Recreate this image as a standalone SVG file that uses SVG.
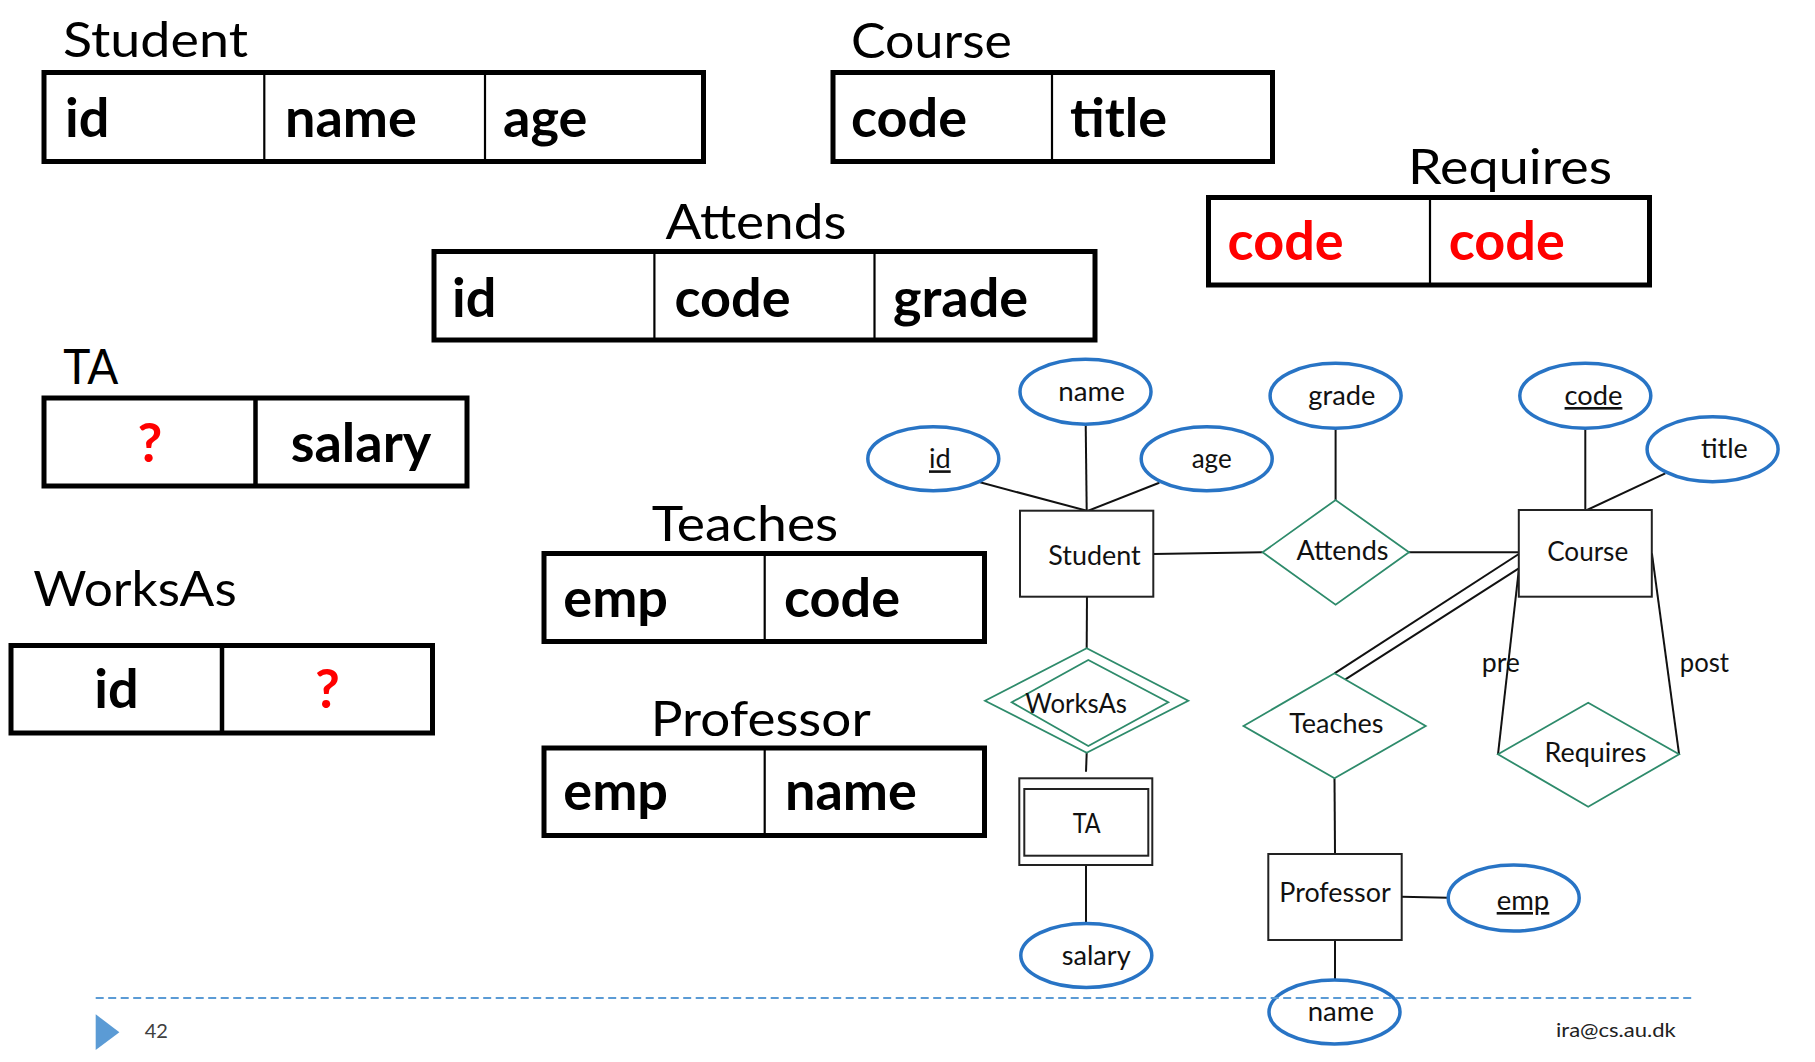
<svg xmlns="http://www.w3.org/2000/svg" width="1815" height="1062" viewBox="0 0 1815 1062">
<style>
.bg{fill:#ffffff}
.tbl{fill:none;stroke:#000;stroke-width:5}
.div{stroke:#000;stroke-width:2.2}
.divk{stroke:#000;stroke-width:4.5}
.ttl{font-family:Lato,"Open Sans",sans-serif;font-size:48px;fill:#000}
.cell{font-family:Lato,"Open Sans",sans-serif;font-weight:bold;font-size:54px;fill:#000}
.red{fill:#ff0000}
.ent{fill:#fff;stroke:#222;stroke-width:2}
.att{fill:#fff;stroke:#2874C5;stroke-width:3.5}
.rel{fill:#fff;stroke:#2E8B6B;stroke-width:1.8}
.lbl{font-family:Lato,"Open Sans",sans-serif;font-size:26px;fill:#111}
.con line{stroke:#111;stroke-width:2}
.foot{font-family:Lato,"Open Sans",sans-serif;font-size:20px}
</style>
<rect class="bg" x="0" y="0" width="1815" height="1062"/>

<!-- Relational tables -->
<g id="tbl-student">
  <text class="ttl" x="63" y="57" textLength="185" lengthAdjust="spacingAndGlyphs">Student</text>
  <rect class="tbl" x="44" y="72.5" width="659.5" height="89"/>
  <line class="div" x1="264.3" y1="72.5" x2="264.3" y2="161.5"/>
  <line class="div" x1="485" y1="72.5" x2="485" y2="161.5"/>
  <text class="cell" x="65" y="137">id</text>
  <text class="cell" x="285" y="137">name</text>
  <text class="cell" x="503" y="137">age</text>
</g>
<g id="tbl-course">
  <text class="ttl" x="851" y="58" textLength="161" lengthAdjust="spacingAndGlyphs">Course</text>
  <rect class="tbl" x="833" y="72.5" width="439.5" height="89"/>
  <line class="div" x1="1052" y1="72.5" x2="1052" y2="161.5"/>
  <text class="cell" x="851" y="137">code</text>
  <text class="cell" x="1070" y="137">title</text>
</g>
<g id="tbl-requires">
  <text class="ttl" x="1408" y="184" textLength="204" lengthAdjust="spacingAndGlyphs">Requires</text>
  <rect class="tbl" x="1208.5" y="197.5" width="441" height="87.5"/>
  <line class="div" x1="1430" y1="197.5" x2="1430" y2="285"/>
  <text class="cell red" x="1227.6" y="260">code</text>
  <text class="cell red" x="1448.8" y="260">code</text>
</g>
<g id="tbl-attends">
  <text class="ttl" x="665.5" y="239.3" textLength="181" lengthAdjust="spacingAndGlyphs">Attends</text>
  <rect class="tbl" x="434" y="251.5" width="661" height="88.5"/>
  <line class="div" x1="654.4" y1="251.5" x2="654.4" y2="340"/>
  <line class="div" x1="874.5" y1="251.5" x2="874.5" y2="340"/>
  <text class="cell" x="452" y="317">id</text>
  <text class="cell" x="674.5" y="317">code</text>
  <text class="cell" x="893" y="317">grade</text>
</g>
<g id="tbl-ta">
  <text class="ttl" x="63.3" y="384.3" textLength="55" lengthAdjust="spacingAndGlyphs">TA</text>
  <rect class="tbl" x="44" y="398" width="423" height="88"/>
  <line class="divk" x1="255.5" y1="398" x2="255.5" y2="486"/>
  <text class="cell red" x="150" y="461.7" text-anchor="middle">?</text>
  <text class="cell" x="361" y="461.7" text-anchor="middle">salary</text>
</g>
<g id="tbl-worksas">
  <text class="ttl" x="33.3" y="605.7" textLength="203.4" lengthAdjust="spacingAndGlyphs">WorksAs</text>
  <rect class="tbl" x="11" y="645.5" width="421.5" height="87.5"/>
  <line class="divk" x1="222" y1="645.5" x2="222" y2="733"/>
  <text class="cell" x="116.5" y="708" text-anchor="middle">id</text>
  <text class="cell red" x="327.5" y="708" text-anchor="middle">?</text>
</g>
<g id="tbl-teaches">
  <text class="ttl" x="651.7" y="541" textLength="186.6" lengthAdjust="spacingAndGlyphs">Teaches</text>
  <rect class="tbl" x="544" y="553.5" width="440.5" height="88"/>
  <line class="div" x1="764.7" y1="553.5" x2="764.7" y2="641.5"/>
  <text class="cell" x="563.3" y="616.7">emp</text>
  <text class="cell" x="784" y="616.7">code</text>
</g>
<g id="tbl-professor">
  <text class="ttl" x="650.7" y="736" textLength="220" lengthAdjust="spacingAndGlyphs">Professor</text>
  <rect class="tbl" x="544" y="748" width="440.5" height="87.5"/>
  <line class="div" x1="764.7" y1="748" x2="764.7" y2="835.5"/>
  <text class="cell" x="563.3" y="810">emp</text>
  <text class="cell" x="785" y="810">name</text>
</g>

<!-- ER connectors -->
<g id="connectors" class="con">
  <line x1="980" y1="482.3" x2="1086.7" y2="510.7"/>
  <line x1="1085.7" y1="424" x2="1086.7" y2="510.7"/>
  <line x1="1159.3" y1="482.7" x2="1088.3" y2="510.7"/>
  <line x1="1153.3" y1="554" x2="1262.6" y2="552.3"/>
  <line x1="1335.6" y1="428" x2="1335.6" y2="500"/>
  <line x1="1409" y1="552.3" x2="1518.8" y2="552.3"/>
  <line x1="1585.3" y1="428" x2="1585.3" y2="510"/>
  <line x1="1665.3" y1="473.3" x2="1587.1" y2="510"/>
  <line x1="1518.8" y1="554" x2="1334.5" y2="673.3"/>
  <line x1="1518.8" y1="568.3" x2="1345.4" y2="679.3"/>
  <line x1="1518.8" y1="570" x2="1498" y2="754.3"/>
  <line x1="1651.9" y1="553.3" x2="1679.1" y2="754.3"/>
  <line x1="1087" y1="591.7" x2="1086.7" y2="648.3"/>
  <line x1="1086.7" y1="752.7" x2="1086" y2="771.7"/>
  <line x1="1086" y1="865" x2="1086" y2="923"/>
  <line x1="1334.5" y1="778.3" x2="1335" y2="854"/>
  <line x1="1401.7" y1="896.7" x2="1448" y2="897.7"/>
  <line x1="1335" y1="940" x2="1335" y2="980"/>
</g>

<!-- ER nodes -->
<g id="er-student">
  <rect class="ent" x="1020" y="510.7" width="133.3" height="86"/>
  <text class="lbl" x="1048.3" y="565" textLength="92.4" lengthAdjust="spacingAndGlyphs">Student</text>
</g>
<g id="er-course">
  <rect class="ent" x="1518.8" y="510" width="133" height="86.7"/>
  <text class="lbl" x="1547.2" y="561" textLength="81" lengthAdjust="spacingAndGlyphs">Course</text>
</g>
<g id="er-ta">
  <rect class="ent" x="1019.3" y="778.3" width="133" height="86.7"/>
  <rect class="ent" x="1024.3" y="789" width="124" height="66.7"/>
  <text class="lbl" x="1072.7" y="832.7" textLength="28" lengthAdjust="spacingAndGlyphs">TA</text>
</g>
<g id="er-professor">
  <rect class="ent" x="1268.3" y="854" width="133.4" height="86"/>
  <text class="lbl" x="1279.3" y="901.7" textLength="111.4" lengthAdjust="spacingAndGlyphs">Professor</text>
</g>
<g id="er-attends">
  <polygon class="rel" points="1262.6,552.3 1335.6,500 1409,552.3 1335.6,604.7"/>
  <text class="lbl" x="1296.5" y="559.5" textLength="92" lengthAdjust="spacingAndGlyphs">Attends</text>
</g>
<g id="er-worksas">
  <polygon class="rel" points="985,700.7 1086.7,648.3 1188.3,700.7 1086.7,752.7"/>
  <polygon class="rel" points="1011.7,702.3 1088.3,660 1168.3,702.3 1088.3,746"/>
  <text class="lbl" x="1025.3" y="712.5" textLength="101.7" lengthAdjust="spacingAndGlyphs">WorksAs</text>
</g>
<g id="er-teaches">
  <polygon class="rel" points="1243.5,726 1334.5,673.3 1425.7,726 1334.5,778.3"/>
  <text class="lbl" x="1289.2" y="733.3" textLength="94.3" lengthAdjust="spacingAndGlyphs">Teaches</text>
</g>
<g id="er-requires">
  <polygon class="rel" points="1498,754.3 1588.2,702.7 1679.1,754.3 1588.2,806.7"/>
  <text class="lbl" x="1544.6" y="761.7" textLength="101.8" lengthAdjust="spacingAndGlyphs">Requires</text>
</g>
<g id="er-attr-name">
  <ellipse class="att" cx="1085.5" cy="391.7" rx="65.5" ry="32.5"/>
  <text class="lbl" x="1058.3" y="400.7" textLength="66.7" lengthAdjust="spacingAndGlyphs">name</text>
</g>
<g id="er-attr-id">
  <ellipse class="att" cx="933.3" cy="458.8" rx="65.5" ry="32"/>
  <text class="lbl" x="929" y="468.3" textLength="21.7" lengthAdjust="spacingAndGlyphs" text-decoration="underline">id</text>
</g>
<g id="er-attr-age">
  <ellipse class="att" cx="1206.7" cy="458.8" rx="65.5" ry="32"/>
  <text class="lbl" x="1191.7" y="468.3" textLength="40" lengthAdjust="spacingAndGlyphs">age</text>
</g>
<g id="er-attr-grade">
  <ellipse class="att" cx="1335.6" cy="395.8" rx="65.5" ry="32.5"/>
  <text class="lbl" x="1308.3" y="405" textLength="67" lengthAdjust="spacingAndGlyphs">grade</text>
</g>
<g id="er-attr-code">
  <ellipse class="att" cx="1585.3" cy="395.8" rx="65.5" ry="32.5"/>
  <text class="lbl" x="1564.6" y="405" textLength="57.8" lengthAdjust="spacingAndGlyphs" text-decoration="underline">code</text>
</g>
<g id="er-attr-title">
  <ellipse class="att" cx="1712.6" cy="449.2" rx="65.5" ry="32.5"/>
  <text class="lbl" x="1701" y="458.3" textLength="46.8" lengthAdjust="spacingAndGlyphs">title</text>
</g>
<g id="er-attr-salary">
  <ellipse class="att" cx="1086.3" cy="955.5" rx="65.5" ry="32"/>
  <text class="lbl" x="1061.7" y="965" textLength="69" lengthAdjust="spacingAndGlyphs">salary</text>
</g>
<g id="er-attr-emp">
  <ellipse class="att" cx="1513.7" cy="898" rx="65.5" ry="33"/>
  <text class="lbl" x="1496.7" y="910" textLength="52.6" lengthAdjust="spacingAndGlyphs" text-decoration="underline">emp</text>
</g>
<g id="er-attr-pname">
  <ellipse class="att" cx="1334.5" cy="1012" rx="65.5" ry="32"/>
  <text class="lbl" x="1307.7" y="1020.7" textLength="66.3" lengthAdjust="spacingAndGlyphs">name</text>
</g>
<g id="role-labels">
  <text class="lbl" x="1481.7" y="671.7" textLength="38.2" lengthAdjust="spacingAndGlyphs">pre</text>
  <text class="lbl" x="1679.8" y="671.7" textLength="49.2" lengthAdjust="spacingAndGlyphs">post</text>
</g>

<!-- footer -->
<g id="footer">
  <line x1="95.7" y1="998" x2="1693.3" y2="998" stroke="#5B9BD5" stroke-width="2" stroke-dasharray="8 4.5"/>
  <polygon points="95.7,1014.3 119.4,1032.2 95.7,1050" fill="#5B9BD5"/>
  <text class="foot" x="144.7" y="1038.3" fill="#404040">42</text>
  <text class="foot" x="1556" y="1037.3" fill="#222" textLength="119.7" lengthAdjust="spacingAndGlyphs">ira@cs.au.dk</text>
</g>
</svg>
